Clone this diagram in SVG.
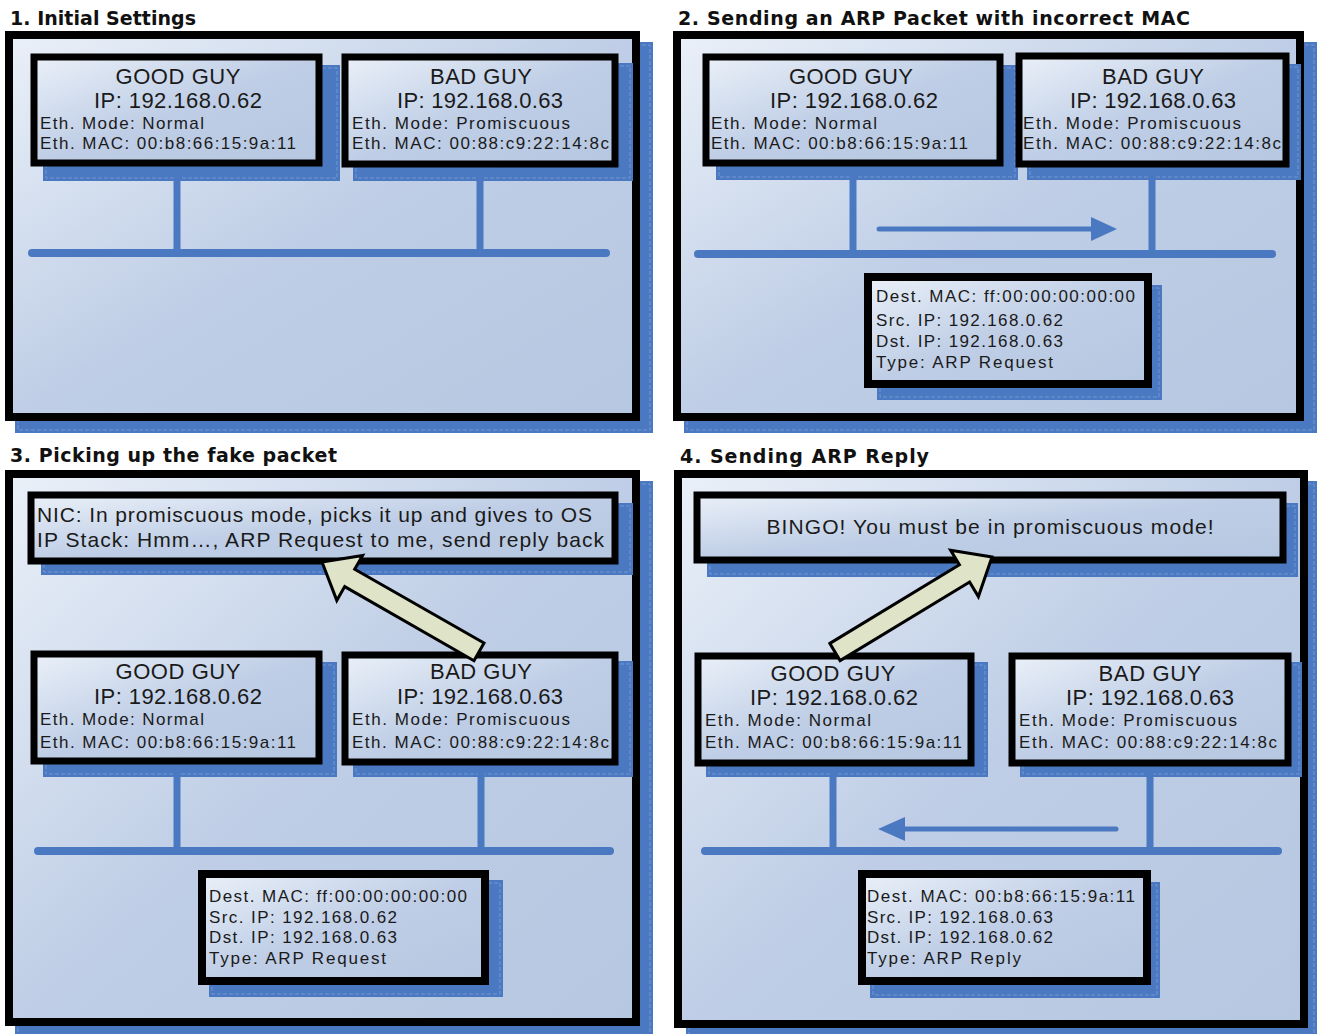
<svg xmlns="http://www.w3.org/2000/svg" width="1317" height="1034" viewBox="0 0 1317 1034">
<defs>
<linearGradient id="g" x1="0" y1="0" x2="1" y2="1">
<stop offset="0" stop-color="#eaf0f8"/>
<stop offset="0.5" stop-color="#bfcee6"/>
<stop offset="1" stop-color="#b6c7e1"/>
</linearGradient>
<style>
.sh{fill:#4a79c2}
.shl{fill:none;stroke:#8eabdc;stroke-width:1;stroke-dasharray:4 2;opacity:0.6}
.pn{fill:url(#g);stroke:#000;stroke-width:8;stroke-linejoin:miter}
.bx{fill:url(#g);stroke:#000;stroke-width:7}
.ln{stroke:#4a79c2;stroke-width:7;fill:none}
.bus{stroke:#4a79c2;stroke-width:8;fill:none;stroke-linecap:round}
.ar{stroke:#4a79c2;stroke-width:5;fill:none;stroke-linecap:round}
.ah{fill:#4a79c2}
.big{fill:#dfe3c8;stroke:#000;stroke-width:3;stroke-linejoin:miter}
text{font-family:"Liberation Sans",Arial,sans-serif;fill:#1a1a1a}
.t{font-family:"DejaVu Sans","Liberation Sans",sans-serif;font-size:19px;font-weight:bold;fill:#111}
.h{font-size:22px;text-anchor:middle}
.s{font-size:17px}
.m{font-size:21px}
</style>
</defs>
<rect width="1317" height="1034" fill="#fff"/>

<!-- panel frames -->
<g id="panel1">
<rect class="sh" x="15" y="42" width="638" height="391"/>
<rect class="shl" x="18" y="45" width="632" height="385"/>
<rect class="pn" x="9" y="35" width="627" height="382"/>
<text class="t" x="10" y="25" textLength="186">1. Initial Settings</text>
</g>
<g id="panel2">
<rect class="sh" x="684" y="42" width="633" height="391"/>
<rect class="shl" x="687" y="45" width="627" height="385"/>
<rect class="pn" x="677" y="35" width="623" height="382"/>
<text class="t" x="678" y="25" textLength="512">2. Sending an ARP Packet with incorrect MAC</text>
</g>
<g id="panel3">
<rect class="sh" x="15" y="481" width="638" height="560"/>
<rect class="shl" x="18" y="484" width="632" height="560"/>
<rect class="pn" x="9" y="474" width="627" height="548"/>
<text class="t" x="10" y="462" textLength="327">3. Picking up the fake packet</text>
</g>
<g id="panel4">
<rect class="sh" x="686" y="481" width="631" height="560"/>
<rect class="shl" x="689" y="484" width="625" height="560"/>
<rect class="pn" x="678" y="474" width="626" height="550"/>
<text class="t" x="680" y="463" textLength="249">4. Sending ARP Reply</text>
</g>

<!-- node shadows -->
<g id="shadows">
<rect class="sh" x="43" y="65" width="297" height="116"/><rect class="shl" x="46" y="68" width="291" height="110"/>
<rect class="sh" x="353" y="63" width="280" height="118"/><rect class="shl" x="356" y="66" width="274" height="112"/>
<rect class="sh" x="716" y="65" width="302" height="115"/><rect class="shl" x="719" y="68" width="296" height="109"/>
<rect class="sh" x="1027" y="64" width="274" height="116"/><rect class="shl" x="1030" y="67" width="268" height="110"/>
<rect class="sh" x="877" y="285" width="285" height="115"/><rect class="shl" x="880" y="288" width="279" height="109"/>
<rect class="sh" x="41" y="503" width="592" height="72"/><rect class="shl" x="44" y="506" width="586" height="66"/>
<rect class="sh" x="43" y="662" width="294" height="115"/><rect class="shl" x="46" y="665" width="288" height="109"/>
<rect class="sh" x="353" y="661" width="280" height="116"/><rect class="shl" x="356" y="664" width="274" height="110"/>
<rect class="sh" x="209" y="880" width="294" height="117"/><rect class="shl" x="212" y="883" width="288" height="111"/>
<rect class="sh" x="707" y="503" width="591" height="74"/><rect class="shl" x="710" y="506" width="585" height="68"/>
<rect class="sh" x="706" y="662" width="282" height="115"/><rect class="shl" x="709" y="665" width="276" height="109"/>
<rect class="sh" x="1020" y="662" width="282" height="115"/><rect class="shl" x="1023" y="665" width="276" height="109"/>
<rect class="sh" x="870" y="882" width="290" height="116"/><rect class="shl" x="873" y="885" width="284" height="110"/>
</g>

<!-- connectors -->
<g id="connectors">
<line class="ln" x1="177" y1="163" x2="177" y2="253"/>
<line class="ln" x1="480" y1="164" x2="480" y2="253"/>
<line class="bus" x1="32" y1="253" x2="606" y2="253"/>

<line class="ln" x1="853" y1="163" x2="853" y2="254"/>
<line class="ln" x1="1152" y1="164" x2="1152" y2="254"/>
<line class="bus" x1="698" y1="254" x2="1272" y2="254"/>
<line class="ar" x1="879" y1="229" x2="1095" y2="229"/>
<polygon class="ah" points="1091,217 1117,229 1091,241"/>

<line class="ln" x1="177" y1="761" x2="177" y2="851"/>
<line class="ln" x1="481" y1="762" x2="481" y2="851"/>
<line class="bus" x1="38" y1="851" x2="610" y2="851"/>

<line class="ln" x1="833" y1="763" x2="833" y2="851"/>
<line class="ln" x1="1150" y1="763" x2="1150" y2="851"/>
<line class="bus" x1="705" y1="851" x2="1278" y2="851"/>
<line class="ar" x1="1116" y1="829" x2="900" y2="829"/>
<polygon class="ah" points="905,817 878,829 905,841"/>
</g>

<!-- panel 1 nodes -->
<g id="p1-good">
<rect class="bx" x="34" y="57" width="285" height="106"/>
<text class="h" x="178" y="84" textLength="125">GOOD GUY</text>
<text class="h" x="178" y="108" textLength="168">IP: 192.168.0.62</text>
<text class="s" x="40" y="129" textLength="164">Eth. Mode: Normal</text>
<text class="s" x="40" y="149" textLength="256">Eth. MAC: 00:b8:66:15:9a:11</text>
</g>
<g id="p1-bad">
<rect class="bx" x="345" y="57" width="270" height="107"/>
<text class="h" x="481" y="84" textLength="102">BAD GUY</text>
<text class="h" x="480" y="108" textLength="166">IP: 192.168.0.63</text>
<text class="s" x="352" y="129" textLength="218">Eth. Mode: Promiscuous</text>
<text class="s" x="352" y="149" textLength="257">Eth. MAC: 00:88:c9:22:14:8c</text>
</g>

<!-- panel 2 nodes -->
<g id="p2-good">
<rect class="bx" x="706" y="57" width="294" height="106"/>
<text class="h" x="851" y="84" textLength="124">GOOD GUY</text>
<text class="h" x="854" y="108" textLength="168">IP: 192.168.0.62</text>
<text class="s" x="711" y="129" textLength="166">Eth. Mode: Normal</text>
<text class="s" x="711" y="149" textLength="257">Eth. MAC: 00:b8:66:15:9a:11</text>
</g>
<g id="p2-bad">
<rect class="bx" x="1019" y="56" width="267" height="108"/>
<text class="h" x="1153" y="84" textLength="102">BAD GUY</text>
<text class="h" x="1153" y="108" textLength="166">IP: 192.168.0.63</text>
<text class="s" x="1023" y="129" textLength="218">Eth. Mode: Promiscuous</text>
<text class="s" x="1023" y="149" textLength="258">Eth. MAC: 00:88:c9:22:14:8c</text>
</g>
<g id="p2-packet">
<rect class="bx" x="868" y="277" width="280" height="107" style="stroke-width:8"/>
<text class="s" x="876" y="302" textLength="259">Dest. MAC: ff:00:00:00:00:00</text>
<text class="s" x="876" y="326" textLength="187">Src. IP: 192.168.0.62</text>
<text class="s" x="876" y="347" textLength="187">Dst. IP: 192.168.0.63</text>
<text class="s" x="876" y="368" textLength="177">Type: ARP Request</text>
</g>

<!-- panel 3 nodes -->
<g id="p3-os">
<rect class="bx" x="31" y="495" width="584" height="66"/>
<text class="m" x="37" y="522" textLength="555">NIC: In promiscuous mode, picks it up and gives to OS</text>
<text class="m" x="37" y="547" textLength="567">IP Stack: Hmm…, ARP Request to me, send reply back</text>
</g>
<g id="p3-good">
<rect class="bx" x="34" y="654" width="285" height="107"/>
<text class="h" x="178" y="679" textLength="125">GOOD GUY</text>
<text class="h" x="178" y="704" textLength="168">IP: 192.168.0.62</text>
<text class="s" x="40" y="725" textLength="164">Eth. Mode: Normal</text>
<text class="s" x="40" y="748" textLength="256">Eth. MAC: 00:b8:66:15:9a:11</text>
</g>
<g id="p3-bad">
<rect class="bx" x="345" y="655" width="270" height="107"/>
<text class="h" x="481" y="679" textLength="102">BAD GUY</text>
<text class="h" x="480" y="704" textLength="166">IP: 192.168.0.63</text>
<text class="s" x="352" y="725" textLength="218">Eth. Mode: Promiscuous</text>
<text class="s" x="352" y="748" textLength="257">Eth. MAC: 00:88:c9:22:14:8c</text>
</g>
<g id="p3-packet">
<rect class="bx" x="202" y="874" width="283" height="107" style="stroke-width:8"/>
<text class="s" x="209" y="902" textLength="258">Dest. MAC: ff:00:00:00:00:00</text>
<text class="s" x="209" y="923" textLength="188">Src. IP: 192.168.0.62</text>
<text class="s" x="209" y="943" textLength="188">Dst. IP: 192.168.0.63</text>
<text class="s" x="209" y="964" textLength="177">Type: ARP Request</text>
</g>
<g id="p3-arrow">
<polygon class="big" points="484,643 354.7,569.2 362.6,555.4 322,562 336.8,600.4 344.7,586.6 474,660.7"/>
</g>

<!-- panel 4 nodes -->
<g id="p4-bingo">
<rect class="bx" x="697" y="495" width="586" height="65"/>
<text class="m" x="990" y="534" text-anchor="middle" textLength="447">BINGO! You must be in promiscuous mode!</text>
</g>
<g id="p4-good">
<rect class="bx" x="698" y="656" width="273" height="107"/>
<text class="h" x="833" y="681" textLength="125">GOOD GUY</text>
<text class="h" x="834" y="705" textLength="168">IP: 192.168.0.62</text>
<text class="s" x="705" y="726" textLength="166">Eth. Mode: Normal</text>
<text class="s" x="705" y="748" textLength="257">Eth. MAC: 00:b8:66:15:9a:11</text>
</g>
<g id="p4-bad">
<rect class="bx" x="1012" y="656" width="276" height="107"/>
<text class="h" x="1150" y="681" textLength="103">BAD GUY</text>
<text class="h" x="1150" y="705" textLength="168">IP: 192.168.0.63</text>
<text class="s" x="1019" y="726" textLength="218">Eth. Mode: Promiscuous</text>
<text class="s" x="1019" y="748" textLength="258">Eth. MAC: 00:88:c9:22:14:8c</text>
</g>
<g id="p4-packet">
<rect class="bx" x="862" y="874" width="285" height="107" style="stroke-width:8"/>
<text class="s" x="867" y="902" textLength="268">Dest. MAC: 00:b8:66:15:9a:11</text>
<text class="s" x="867" y="923" textLength="186">Src. IP: 192.168.0.63</text>
<text class="s" x="867" y="943" textLength="186">Dst. IP: 192.168.0.62</text>
<text class="s" x="867" y="964" textLength="154">Type: ARP Reply</text>
</g>
<g id="p4-arrow">
<polygon class="big" points="829.9,643.4 959.4,564.8 950.6,550.2 992,557 978.4,596.6 969.6,582 840.1,660.6"/>
</g>
</svg>
